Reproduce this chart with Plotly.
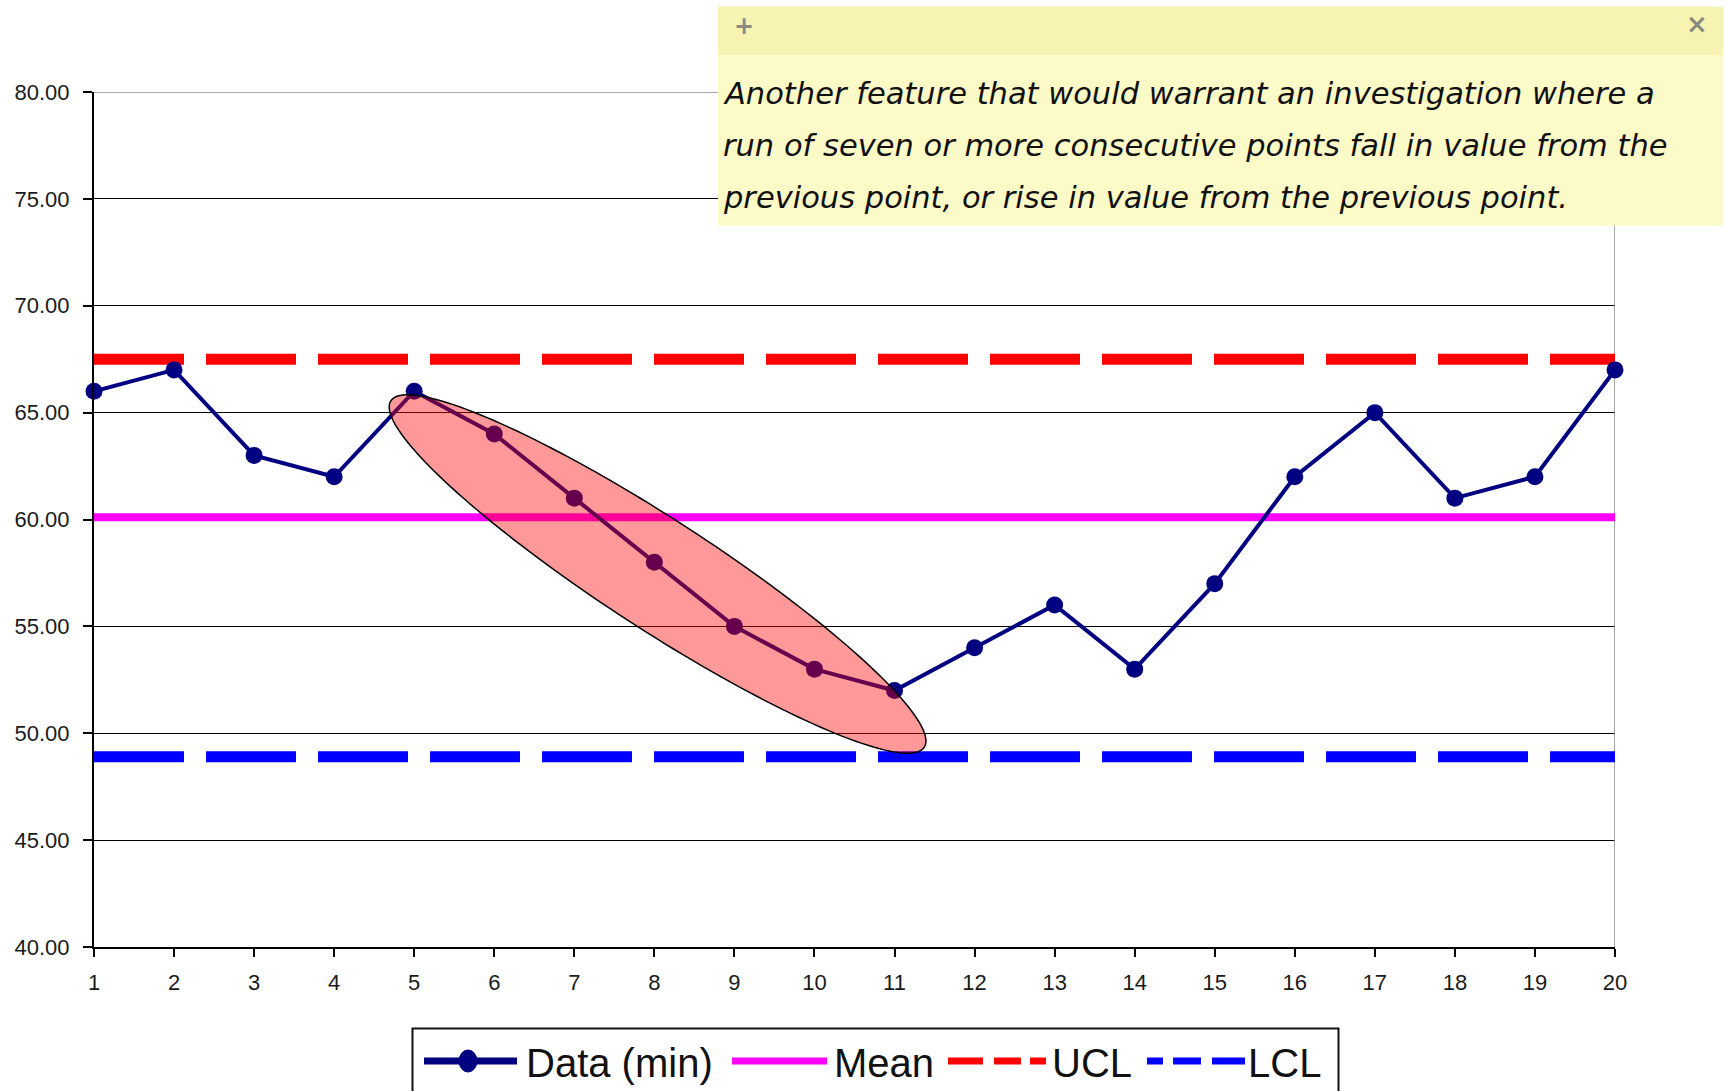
import numpy as np
import plotly.graph_objects as go

# ---- data ---------------------------------------------------------------
sample = list(range(1, 21))
minutes = [66, 67, 63, 62, 66, 64, 61, 58, 55, 53,
           52, 54, 56, 53, 57, 62, 65, 61, 62, 67]
mean_value = 60.1
ucl_value = 67.5
lcl_value = 48.9

legend_labels = ["Data (min)", "Mean", "UCL", "LCL"]
note_lines = [
    "Another feature that would warrant an investigation where a",
    "run of seven or more consecutive points fall in value from the",
    "previous point, or rise in value from the previous point.",
]

# ---- page geometry ------------------------------------------------------
W, H = 1725, 1091
ML, MR, MT, MB = 94, 110, 92, 144
PW, PH = W - ML - MR, H - MT - MB
X0, X1, Y0, Y1 = 1, 20, 40, 80


def px(x):
    """page pixel x -> paper x"""
    return (x - ML) / PW


def py(y):
    """page pixel y -> paper y"""
    return (H - MB - y) / PH


NAVY = "#000080"
MAGENTA = "#FF00FF"
RED = "#FF0000"
BLUE = "#0000FF"

fig = go.Figure()

# control limits and centre line
for yv, col, width, dash in [
    (mean_value, MAGENTA, 8, "solid"),
    (ucl_value, RED, 11, "90px,22px"),
    (lcl_value, BLUE, 11, "90px,22px"),
]:
    fig.add_trace(go.Scatter(
        x=[sample[0], sample[-1]], y=[yv, yv], mode="lines",
        line=dict(color=col, width=width, dash=dash),
        showlegend=False, hoverinfo="skip", cliponaxis=False,
    ))

# measured series
fig.add_trace(go.Scatter(
    x=sample, y=minutes, mode="lines+markers",
    line=dict(color=NAVY, width=4),
    marker=dict(color=NAVY, size=17, symbol="circle"),
    showlegend=False, cliponaxis=False, name=legend_labels[0],
))

shapes = []

# grey frame on top and right of the plot area
shapes.append(dict(type="line", xref="x", yref="y", x0=X0, x1=X1, y0=Y1, y1=Y1,
                   line=dict(color="#8c8c8c", width=1.5), layer="between"))
shapes.append(dict(type="line", xref="x", yref="y", x0=X1, x1=X1, y0=Y0, y1=Y1,
                   line=dict(color="#8c8c8c", width=1.5), layer="between"))

# highlight ellipse round the falling run (pixel-sized, rotated)
ux = PW / (X1 - X0)  # px per sample
uy = PH / (Y1 - Y0)  # px per minute
ell_cx, ell_cy = 8.04, 57.45
ell_a, ell_b, ell_ang = 318.0, 55.0, np.deg2rad(33.0)
t = np.linspace(0, 2 * np.pi, 181)
sx = ell_a * np.cos(t) * np.cos(ell_ang) - ell_b * np.sin(t) * np.sin(ell_ang)
sy = ell_a * np.cos(t) * np.sin(ell_ang) + ell_b * np.sin(t) * np.cos(ell_ang)
ex = ell_cx + sx / ux
ey = ell_cy - sy / uy
path = "M " + " L ".join(f"{a:.4f},{b:.4f}" for a, b in zip(ex, ey)) + " Z"
shapes.append(dict(type="path", xref="x", yref="y", path=path,
                   fillcolor="rgba(255,0,0,0.4)",
                   line=dict(color="black", width=1.5), layer="above"))

# sticky note
shapes.append(dict(type="rect", xref="paper", yref="paper",
                   x0=px(718), x1=px(1723), y0=py(55), y1=py(225.5),
                   fillcolor="#FCFAC6", line=dict(width=0), layer="above"))
shapes.append(dict(type="rect", xref="paper", yref="paper",
                   x0=px(718), x1=px(1723), y0=py(6.6), y1=py(55),
                   fillcolor="#F7F4B3", line=dict(width=0), layer="above"))

# legend box
shapes.append(dict(type="rect", xref="paper", yref="paper",
                   x0=px(412.5), x1=px(1338.5), y0=py(1028.5), y1=py(1110),
                   fillcolor="white", line=dict(color="#111111", width=2),
                   layer="above"))

LEG_Y = 1061
# legend samples
shapes.append(dict(type="line", xref="paper", yref="paper",
                   x0=px(424), x1=px(517), y0=py(LEG_Y), y1=py(LEG_Y),
                   line=dict(color=NAVY, width=7), layer="above"))
shapes.append(dict(type="circle", xref="paper", yref="paper",
                   xsizemode="pixel", ysizemode="pixel",
                   xanchor=px(468), yanchor=py(LEG_Y),
                   x0=-9, x1=9, y0=-11, y1=11,
                   fillcolor=NAVY, line=dict(color=NAVY, width=1), layer="above"))
shapes.append(dict(type="line", xref="paper", yref="paper",
                   x0=px(732), x1=px(827), y0=py(LEG_Y), y1=py(LEG_Y),
                   line=dict(color=MAGENTA, width=7), layer="above"))
for a, b in [(948, 983), (994, 1021), (1030, 1046)]:
    shapes.append(dict(type="line", xref="paper", yref="paper",
                       x0=px(a), x1=px(b), y0=py(LEG_Y), y1=py(LEG_Y),
                       line=dict(color=RED, width=7), layer="above"))
for a, b in [(1147, 1163), (1173, 1201), (1212, 1245)]:
    shapes.append(dict(type="line", xref="paper", yref="paper",
                       x0=px(a), x1=px(b), y0=py(LEG_Y), y1=py(LEG_Y),
                       line=dict(color=BLUE, width=7), layer="above"))

annotations = []
for label, xl in zip(legend_labels, [524, 832, 1050, 1246]):
    annotations.append(dict(
        text=label, xref="paper", yref="paper", x=px(xl), y=py(LEG_Y + 2),
        xanchor="left", yanchor="middle", showarrow=False,
        font=dict(family="Liberation Sans, Arial, sans-serif", size=40, color="#111111"),
    ))

for line_text, yl in zip(note_lines, [93.5, 145, 197]):
    annotations.append(dict(
        text=line_text, xref="paper", yref="paper", x=px(721), y=py(yl),
        xanchor="left", yanchor="middle", showarrow=False,
        font=dict(family="DejaVu Sans, sans-serif", size=30.5, color="#111111",
                  style="italic"),
    ))

annotations.append(dict(text="<b>+</b>", xref="paper", yref="paper", x=px(744), y=py(26),
                        xanchor="center", yanchor="middle", showarrow=False,
                        font=dict(family="DejaVu Sans", size=24, color="#8a8a80")))
annotations.append(dict(text="<b>×</b>", xref="paper", yref="paper", x=px(1697), y=py(24),
                        xanchor="center", yanchor="middle", showarrow=False,
                        font=dict(family="DejaVu Sans", size=26, color="#8a8a80")))

tick_font = dict(family="Liberation Sans, Arial, sans-serif", size=22, color="#1a1a1a")

fig.update_layout(
    width=W, height=H,
    margin=dict(l=ML, r=MR, t=MT, b=MB, pad=0),
    paper_bgcolor="white", plot_bgcolor="white",
    showlegend=False,
    shapes=shapes, annotations=annotations,
    xaxis=dict(
        range=[X0, X1], tickmode="linear", tick0=1, dtick=1,
        showgrid=False, zeroline=False,
        showline=True, linecolor="black", linewidth=2,
        ticks="outside", ticklen=8, tickwidth=1.5, tickcolor="black",
        tickfont=tick_font, ticklabelstandoff=7,
    ),
    yaxis=dict(
        range=[Y0, Y1], tickmode="linear", tick0=40, dtick=5, tickformat=".2f",
        showgrid=True, gridcolor="black", gridwidth=1,
        zeroline=False,
        showline=True, linecolor="black", linewidth=2,
        ticks="outside", ticklen=9, tickwidth=1.5, tickcolor="black",
        tickfont=tick_font, ticklabelstandoff=9,
    ),
)

fig.write_html("out.html")
